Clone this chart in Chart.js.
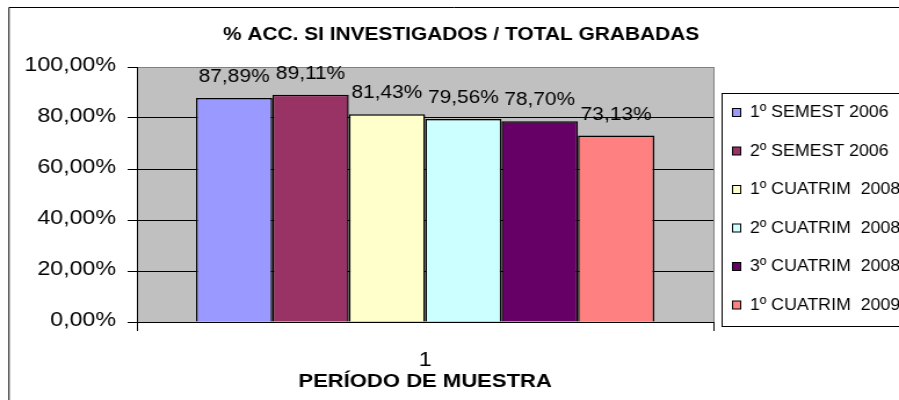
<!DOCTYPE html>
<html>
<head>
<meta charset="utf-8">
<script src="https://cdn.jsdelivr.net/npm/chart.js@4.4.1/dist/chart.umd.min.js"></script>
<style>
  html, body { margin: 0; padding: 0; background: #fff; overflow: hidden; }
</style>
</head>
<body>
<canvas id="chart" width="775" height="400" style="display:block;width:899px;height:400px"></canvas>
<script>
const categories = ["1"];
const series = ["1º SEMEST 2006", "2º SEMEST 2006", "1º CUATRIM  2008", "2º CUATRIM  2008", "3º CUATRIM  2008", "1º CUATRIM  2009"];
const values = [87.89, 89.11, 81.43, 79.56, 78.70, 73.13];
const colors = ["#9999FF", "#993366", "#FFFFCC", "#CCFFFF", "#660066", "#FF8080"];
const chartTitle = "% ACC. SI INVESTIGADOS / TOTAL GRABADAS";
const xTitle = "PERÍODO DE MUESTRA";

// the source chart has its text stretched sideways, so the canvas is drawn
// narrower and widened by css (775 -> 899)
const FONT = '"Liberation Sans", Arial, sans-serif';
Chart.defaults.font.family = FONT;

const pct = (v) => Number(v).toFixed(2).replace(".", ",") + "%";

const frame = {
    id: "frame",
    beforeDraw(chart) {
        const { ctx, chartArea: a, width, height } = chart;
        ctx.save();
        ctx.fillStyle = "#C0C0C0";
        ctx.fillRect(a.left, a.top, a.right - a.left, a.bottom - a.top);
        ctx.strokeStyle = "#000";
        ctx.lineWidth = 1;
        ctx.beginPath();
        ctx.moveTo(7.75, height);
        ctx.lineTo(7.75, 7.5);
        ctx.lineTo(width, 7.5);
        ctx.stroke();
        ctx.fillStyle = "#000";
        ctx.font = "bold 18px " + FONT;
        ctx.textAlign = "center";
        ctx.textBaseline = "alphabetic";
        ctx.fillText(chartTitle, 397.5, 40);
        ctx.restore();
    },
    afterDatasetsDraw(chart) {
        const ctx = chart.ctx;
        ctx.save();
        ctx.font = "18px " + FONT;
        ctx.fillStyle = "#000";
        ctx.textAlign = "center";
        ctx.textBaseline = "alphabetic";
        chart.data.datasets.forEach((ds, i) => {
            chart.getDatasetMeta(i).data.forEach((bar, j) => {
                ctx.fillText(pct(ds.data[j]), bar.x, bar.y - 16);
            });
        });
        ctx.restore();
    },
    afterDraw(chart) {
        const { ctx, chartArea: a } = chart;
        ctx.save();
        // plot border on the right
        ctx.strokeStyle = "#808080";
        ctx.lineWidth = 1;
        ctx.beginPath();
        ctx.moveTo(a.right + 0.5, a.top);
        ctx.lineTo(a.right + 0.5, a.bottom);
        ctx.stroke();

        // legend, cut off by the right edge like the original
        ctx.strokeStyle = "#000";
        ctx.strokeRect(622.5, 93.5, 300, 233);
        ctx.font = "17px " + FONT;
        ctx.textAlign = "left";
        ctx.textBaseline = "middle";
        chart.data.datasets.forEach((ds, i) => {
            const y = 112.5 + i * 38.5;
            ctx.fillStyle = ds.backgroundColor;
            ctx.fillRect(631.5, y - 4, 7, 8);
            ctx.strokeRect(631.5, y - 4, 7, 8);
            ctx.fillStyle = "#000";
            // legend text is narrower than the rest in the original
            ctx.save();
            ctx.translate(646.5, y);
            ctx.scale(0.9, 1);
            ctx.fillText(ds.label, 0, 0);
            ctx.restore();
        });
        ctx.restore();
    },
};

new Chart(document.getElementById("chart"), {
    type: "bar",
    data: {
        labels: categories,
        datasets: series.map((label, i) => ({
            label: label,
            data: [values[i]],
            backgroundColor: colors[i],
            borderColor: "#000",
            borderWidth: 1.5,
            borderSkipped: "start",
            categoryPercentage: 0.795,
            barPercentage: 1,
        })),
    },
    options: {
        responsive: false,
        animation: false,
        devicePixelRatio: 1,
        layout: {
            padding: { top: 67, right: 160, bottom: 7, left: 0 },
        },
        plugins: {
            legend: { display: false },
            title: { display: false },
            tooltip: { enabled: false },
        },
        scales: {
            x: {
                grid: { offset: true, drawOnChartArea: false, color: "#000", tickLength: 9 },
                border: { color: "#000" },
                ticks: { color: "#000", font: { size: 20 }, padding: 17 },
                title: {
                    display: true,
                    text: xTitle,
                    color: "#000",
                    font: { size: 19, weight: "bold" },
                    padding: 0,
                },
                afterFit(scale) {
                    scale.height = 71;
                },
            },
            y: {
                min: 0,
                max: 100,
                ticks: {
                    stepSize: 20,
                    color: "#000",
                    font: { size: 20 },
                    padding: 10,
                    labelOffset: -2,
                    callback: (v) => pct(v),
                },
                grid: {
                    color: (c) => (c.tick && c.tick.value === 100 ? "#808080" : "#000"),
                    tickColor: "#000",
                    tickLength: 8,
                },
                border: { color: "#000" },
                afterFit(scale) {
                    scale.width = 118;
                },
            },
        },
    },
    plugins: [frame],
});
</script>
</body>
</html>
